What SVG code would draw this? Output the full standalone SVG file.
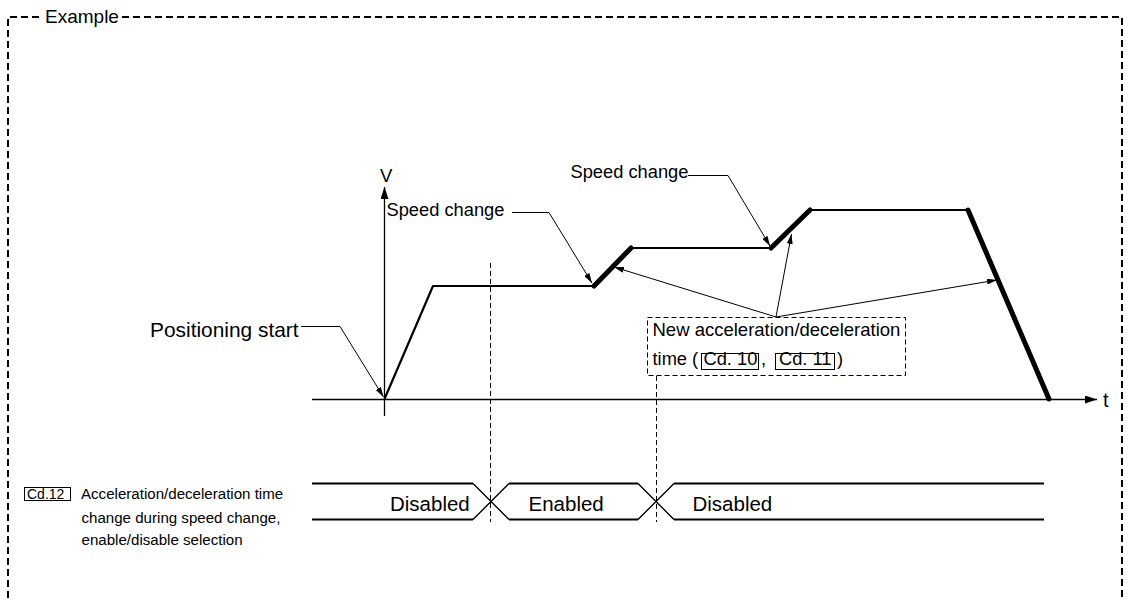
<svg xmlns="http://www.w3.org/2000/svg" width="1131" height="600" viewBox="0 0 1131 600">
<style>
text { font-family: "Liberation Sans", Arial, sans-serif; fill: #000; }
.frame { fill: none; stroke: #000; stroke-width: 2; stroke-dasharray: 7,4; }
.dash { fill: none; stroke: #000; stroke-width: 1; stroke-dasharray: 5,3; }
.axis { fill: none; stroke: #000; stroke-width: 1.3; }
.thin { fill: none; stroke: #000; stroke-width: 2.2; stroke-linejoin: round; }
.thick { fill: none; stroke: #000; stroke-width: 5; stroke-linecap: round; }
.lead { fill: none; stroke: #000; stroke-width: 1; }
.sig { fill: none; stroke: #000; stroke-width: 2.2; }
.sigx { fill: none; stroke: #000; stroke-width: 1.4; }
.box { fill: none; stroke: #000; stroke-width: 1; }
</style>
<defs>
<marker id="axhead" markerUnits="userSpaceOnUse" markerWidth="12" markerHeight="8" viewBox="0 0 12 8" refX="12" refY="4" orient="auto">
<path d="M0,0 L12,4 L0,8 z" fill="#000"/>
</marker>
<marker id="ahead" markerUnits="userSpaceOnUse" markerWidth="10" markerHeight="6" viewBox="0 0 10 6" refX="10" refY="3" orient="auto">
<path d="M0,0 L10,3 L0,6 z" fill="#000"/>
</marker>
</defs>

<g id="frame">
<path class="frame" d="M8,620 V17 H43"/>
<path class="frame" d="M122,17 H1122 V620"/>
<text x="45" y="23" font-size="19">Example</text>
</g>

<g id="axes">
<line class="axis" x1="384.5" y1="416" x2="384.5" y2="187" marker-end="url(#axhead)"/>
<line class="axis" x1="312" y1="399.5" x2="1097" y2="399.5" marker-end="url(#axhead)"/>
<text x="380" y="182" font-size="18.5">V</text>
<text x="1103" y="407" font-size="20">t</text>
</g>

<g id="profile">
<path class="thin" d="M384.5,399 L433,286 H594"/>
<path class="thin" d="M631,248 H771"/>
<path class="thin" d="M810,210 H968"/>
<line class="thick" x1="594" y1="286" x2="631" y2="248"/>
<line class="thick" x1="771" y1="248" x2="810" y2="210"/>
<line class="thick" x1="968" y1="210" x2="1049" y2="399"/>
</g>

<g id="guides">
<line class="dash" x1="490.5" y1="263" x2="490.5" y2="522"/>
<line class="dash" x1="656.5" y1="376" x2="656.5" y2="522"/>
</g>

<g id="connectors">
<path class="lead" d="M301,326.5 H340 L383.5,397" marker-end="url(#ahead)"/>
<path class="lead" d="M512,212.5 H549 L592,283" marker-end="url(#ahead)"/>
<path class="lead" d="M688,175.5 H728 L770,246" marker-end="url(#ahead)"/>
<line class="lead" x1="776" y1="317" x2="614" y2="267" marker-end="url(#ahead)"/>
<line class="lead" x1="776" y1="317" x2="791.5" y2="234" marker-end="url(#ahead)"/>
<line class="lead" x1="776" y1="317" x2="997" y2="280" marker-end="url(#ahead)"/>
</g>

<g id="positioning-start">
<text x="150" y="336.5" font-size="20.9">Positioning start</text>
</g>

<g id="speed-change-1">
<text x="386.5" y="216" font-size="18.3">Speed change</text>
</g>

<g id="speed-change-2">
<text x="570.5" y="177.5" font-size="18.3">Speed change</text>
</g>

<g id="new-accel-time">
<rect class="dash" x="647.5" y="317.5" width="258" height="58"/>
<text x="652.5" y="336" font-size="18.5">New acceleration/deceleration</text>
<text x="652.5" y="365" font-size="18.3">time (</text>
<rect class="box" x="701.5" y="353.5" width="57" height="16"/>
<text x="703.5" y="365" font-size="18.3">Cd. 10</text>
<text x="761" y="365" font-size="18.3">,</text>
<rect class="box" x="775.5" y="353.5" width="59" height="16"/>
<text x="779" y="365" font-size="18.3">Cd. 11</text>
<text x="837" y="365" font-size="18.3">)</text>
</g>

<g id="cd12-label">
<rect class="box" x="24.5" y="487.5" width="46" height="13"/>
<text x="27" y="498.5" font-size="14">Cd.12</text>
<text x="81" y="498.5" font-size="15.1">Acceleration/deceleration time</text>
<text x="81.5" y="522.5" font-size="15.1">change during speed change,</text>
<text x="81.5" y="545" font-size="15.1">enable/disable selection</text>
</g>

<g id="cd12-timing">
<path class="sig" d="M312,483.5 H473"/>
<path class="sig" d="M312,519.5 H473"/>
<path class="sigx" d="M473,483.5 L509,519.5 M473,519.5 L509,483.5"/>
<path class="sig" d="M509,483.5 H638"/>
<path class="sig" d="M509,519.5 H638"/>
<path class="sigx" d="M638,483.5 L674,519.5 M638,519.5 L674,483.5"/>
<path class="sig" d="M674,483.5 H1044"/>
<path class="sig" d="M674,519.5 H1044"/>
<text x="390" y="511" font-size="20.5">Disabled</text>
<text x="528.5" y="511" font-size="20.5">Enabled</text>
<text x="692.5" y="511" font-size="20.5">Disabled</text>
</g>
</svg>
